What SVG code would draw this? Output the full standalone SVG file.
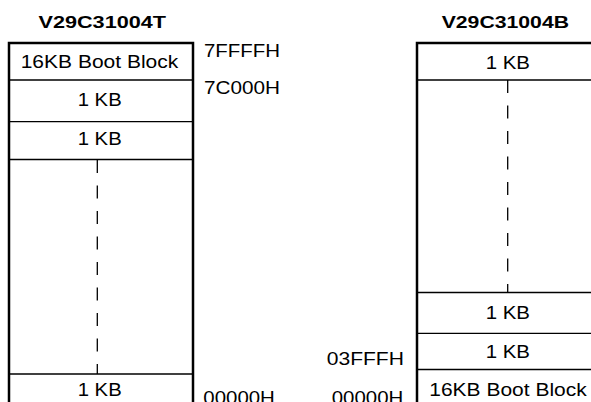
<svg xmlns="http://www.w3.org/2000/svg" width="591" height="402" viewBox="0 0 591 402">
<style>
text{font-family:"Liberation Sans",Arial,sans-serif;fill:#000}
.t{font-weight:bold;font-size:17px}
.c{font-size:18.5px}
.a{font-size:17.5px}
.box{fill:#fff;stroke:#000;stroke-width:2.5}
.div{stroke:#000;stroke-width:1.3;fill:none}
.dash{stroke:#000;stroke-width:1.3;fill:none;stroke-dasharray:13 12.5}
</style>
<rect width="591" height="402" fill="#fff"/>
<g id="title-T"><text class="t" x="38.5" y="27.5" textLength="127.5" lengthAdjust="spacingAndGlyphs">V29C31004T</text></g>
<g id="title-B"><text class="t" x="441.7" y="27.5" textLength="127.3" lengthAdjust="spacingAndGlyphs">V29C31004B</text></g>
<g id="mem-T">
<rect class="box" x="9" y="43" width="184" height="380"/>
<line class="div" x1="9" y1="80" x2="193" y2="80"/>
<line class="div" x1="9" y1="121.7" x2="193" y2="121.7"/>
<line class="div" x1="9" y1="159.5" x2="193" y2="159.5"/>
<line class="div" x1="9" y1="374" x2="193" y2="374"/>
<text class="c" x="20.7" y="68.3" textLength="157.6" lengthAdjust="spacingAndGlyphs">16KB Boot Block</text>
<text class="c" x="77.7" y="106" textLength="44" lengthAdjust="spacingAndGlyphs">1 KB</text>
<text class="c" x="77.7" y="145" textLength="44" lengthAdjust="spacingAndGlyphs">1 KB</text>
<text class="c" x="77.7" y="395.8" textLength="44" lengthAdjust="spacingAndGlyphs">1 KB</text>
</g>
<g id="mem-B">
<rect class="box" x="417" y="43" width="184" height="380"/>
<line class="div" x1="417" y1="80" x2="601" y2="80"/>
<line class="div" x1="417" y1="292.5" x2="601" y2="292.5"/>
<line class="div" x1="417" y1="333.3" x2="601" y2="333.3"/>
<line class="div" x1="417" y1="369.5" x2="601" y2="369.5"/>
<text class="c" x="485.7" y="68.8" textLength="44.3" lengthAdjust="spacingAndGlyphs">1 KB</text>
<text class="c" x="485.7" y="319" textLength="44.3" lengthAdjust="spacingAndGlyphs">1 KB</text>
<text class="c" x="485.7" y="357.7" textLength="44.3" lengthAdjust="spacingAndGlyphs">1 KB</text>
<text class="c" x="429.3" y="396" textLength="157.4" lengthAdjust="spacingAndGlyphs">16KB Boot Block</text>
</g>
<g id="addresses">
<text class="a" x="204" y="57.3" textLength="76" lengthAdjust="spacingAndGlyphs">7FFFFH</text>
<text class="a" x="204" y="94" textLength="76" lengthAdjust="spacingAndGlyphs">7C000H</text>
<text class="a" x="203.3" y="403.7" textLength="71.6" lengthAdjust="spacingAndGlyphs">00000H</text>
<text class="a" x="326.7" y="365" textLength="77.3" lengthAdjust="spacingAndGlyphs">03FFFH</text>
<text class="a" x="331.7" y="403.7" textLength="71.6" lengthAdjust="spacingAndGlyphs">00000H</text>
</g>
<g id="connectors">
<line class="dash" x1="97.3" y1="160" x2="97.3" y2="374"/>
<line class="dash" x1="507.7" y1="80" x2="507.7" y2="292.5"/>
</g>
</svg>
